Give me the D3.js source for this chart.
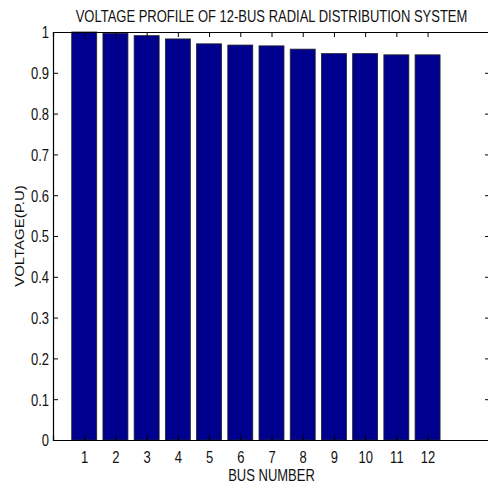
<!DOCTYPE html>
<html>
<head>
<meta charset="utf-8">
<script src="https://cdn.jsdelivr.net/npm/d3@7"></script>
<style>
  body { margin: 0; background: #fff; }
  text { font-family: "Liberation Sans", Arial, sans-serif; }
</style>
</head>
<body>
<script>
var width = 488;
var height = 486;
var margin = {top: 32, right: -2, bottom: 46, left: 53};
var w = width - margin.left - margin.right;
var h = height - margin.top - margin.bottom;
var stretch = 1.25; // text in the original looks tall and narrow

var buses = [1, 2, 3, 4, 5, 6, 7, 8, 9, 10, 11, 12];
var voltages = [1.000, 0.997, 0.991, 0.983, 0.971, 0.968, 0.966, 0.958, 0.947, 0.947, 0.944, 0.944];
var yTicks = [0, 0.1, 0.2, 0.3, 0.4, 0.5, 0.6, 0.7, 0.8, 0.9, 1];

var x = d3.scaleLinear().domain([0, 14]).range([0, w]);
var y = d3.scaleLinear().domain([0, 1]).range([h, 0]);
var barW = 0.8;

var svg = d3.select("body").append("svg")
  .attr("width", width)
  .attr("height", height)
  .append("g")
  .attr("transform", "translate(" + margin.left + "," + margin.top + ")");

// bars
svg.selectAll(".bar")
  .data(buses)
  .enter()
  .append("rect")
  .attr("class", "bar")
  .attr("x", function(d) { return x(d - barW / 2); })
  .attr("width", function(d) { return x(barW) - x(0); })
  .attr("y", function(d, i) { return y(voltages[i]); })
  .attr("height", function(d, i) { return h - y(voltages[i]); })
  .attr("fill", "#00008f")
  .attr("stroke", "#222")
  .attr("stroke-width", 0.8);

// axes (matlab style box with inward ticks)
var fmt = function(d) { return d3.format("")(+d.toFixed(1)); };
var xAxisB = svg.append("g")
  .attr("transform", "translate(0," + h + ")")
  .call(d3.axisBottom(x).tickValues(buses).tickSize(-5));
var xAxisT = svg.append("g")
  .call(d3.axisTop(x).tickValues(buses).tickSize(-5).tickFormat(""));
var yAxisL = svg.append("g")
  .call(d3.axisLeft(y).tickValues(yTicks).tickSize(-5).tickFormat(fmt));
var yAxisR = svg.append("g")
  .attr("transform", "translate(" + w + ",0)")
  .call(d3.axisRight(y).tickValues(yTicks).tickSize(-5).tickFormat(""));

[xAxisB, xAxisT, yAxisL, yAxisR].forEach(function(g) {
  g.attr("font-size", 13).attr("font-family", "'Liberation Sans', Arial, sans-serif");
  g.select(".domain").attr("stroke", "#000").attr("stroke-width", 1.2);
  g.selectAll(".tick line").attr("stroke", "#000");
  g.selectAll(".tick text").attr("fill", "#111");
});

xAxisB.selectAll(".tick text")
  .attr("y", 0).attr("dy", null)
  .attr("transform", "translate(0,23) scale(1," + stretch + ")");
yAxisL.selectAll(".tick text")
  .attr("x", 0).attr("dy", "0.36em")
  .attr("transform", "translate(-4,0) scale(1," + stretch + ")");

// labels
svg.append("text")
  .attr("transform", "translate(" + ((490 - margin.left) / 2) + ",-10) scale(1," + stretch + ")")
  .attr("text-anchor", "middle")
  .style("font-size", "13px")
  .attr("fill", "#111")
  .text("VOLTAGE PROFILE OF 12-BUS RADIAL DISTRIBUTION SYSTEM");

svg.append("text")
  .attr("transform", "translate(" + ((490 - margin.left) / 2) + "," + (h + 41) + ") scale(1," + stretch + ")")
  .attr("text-anchor", "middle")
  .style("font-size", "13px")
  .attr("fill", "#111")
  .text("BUS NUMBER");

svg.append("text")
  .attr("transform", "translate(-29," + (h / 2) + ") scale(1," + stretch + ") rotate(-90)")
  .attr("text-anchor", "middle")
  .style("font-size", "12px")
  .attr("fill", "#111")
  .text("VOLTAGE(P.U)");
</script>
</body>
</html>
